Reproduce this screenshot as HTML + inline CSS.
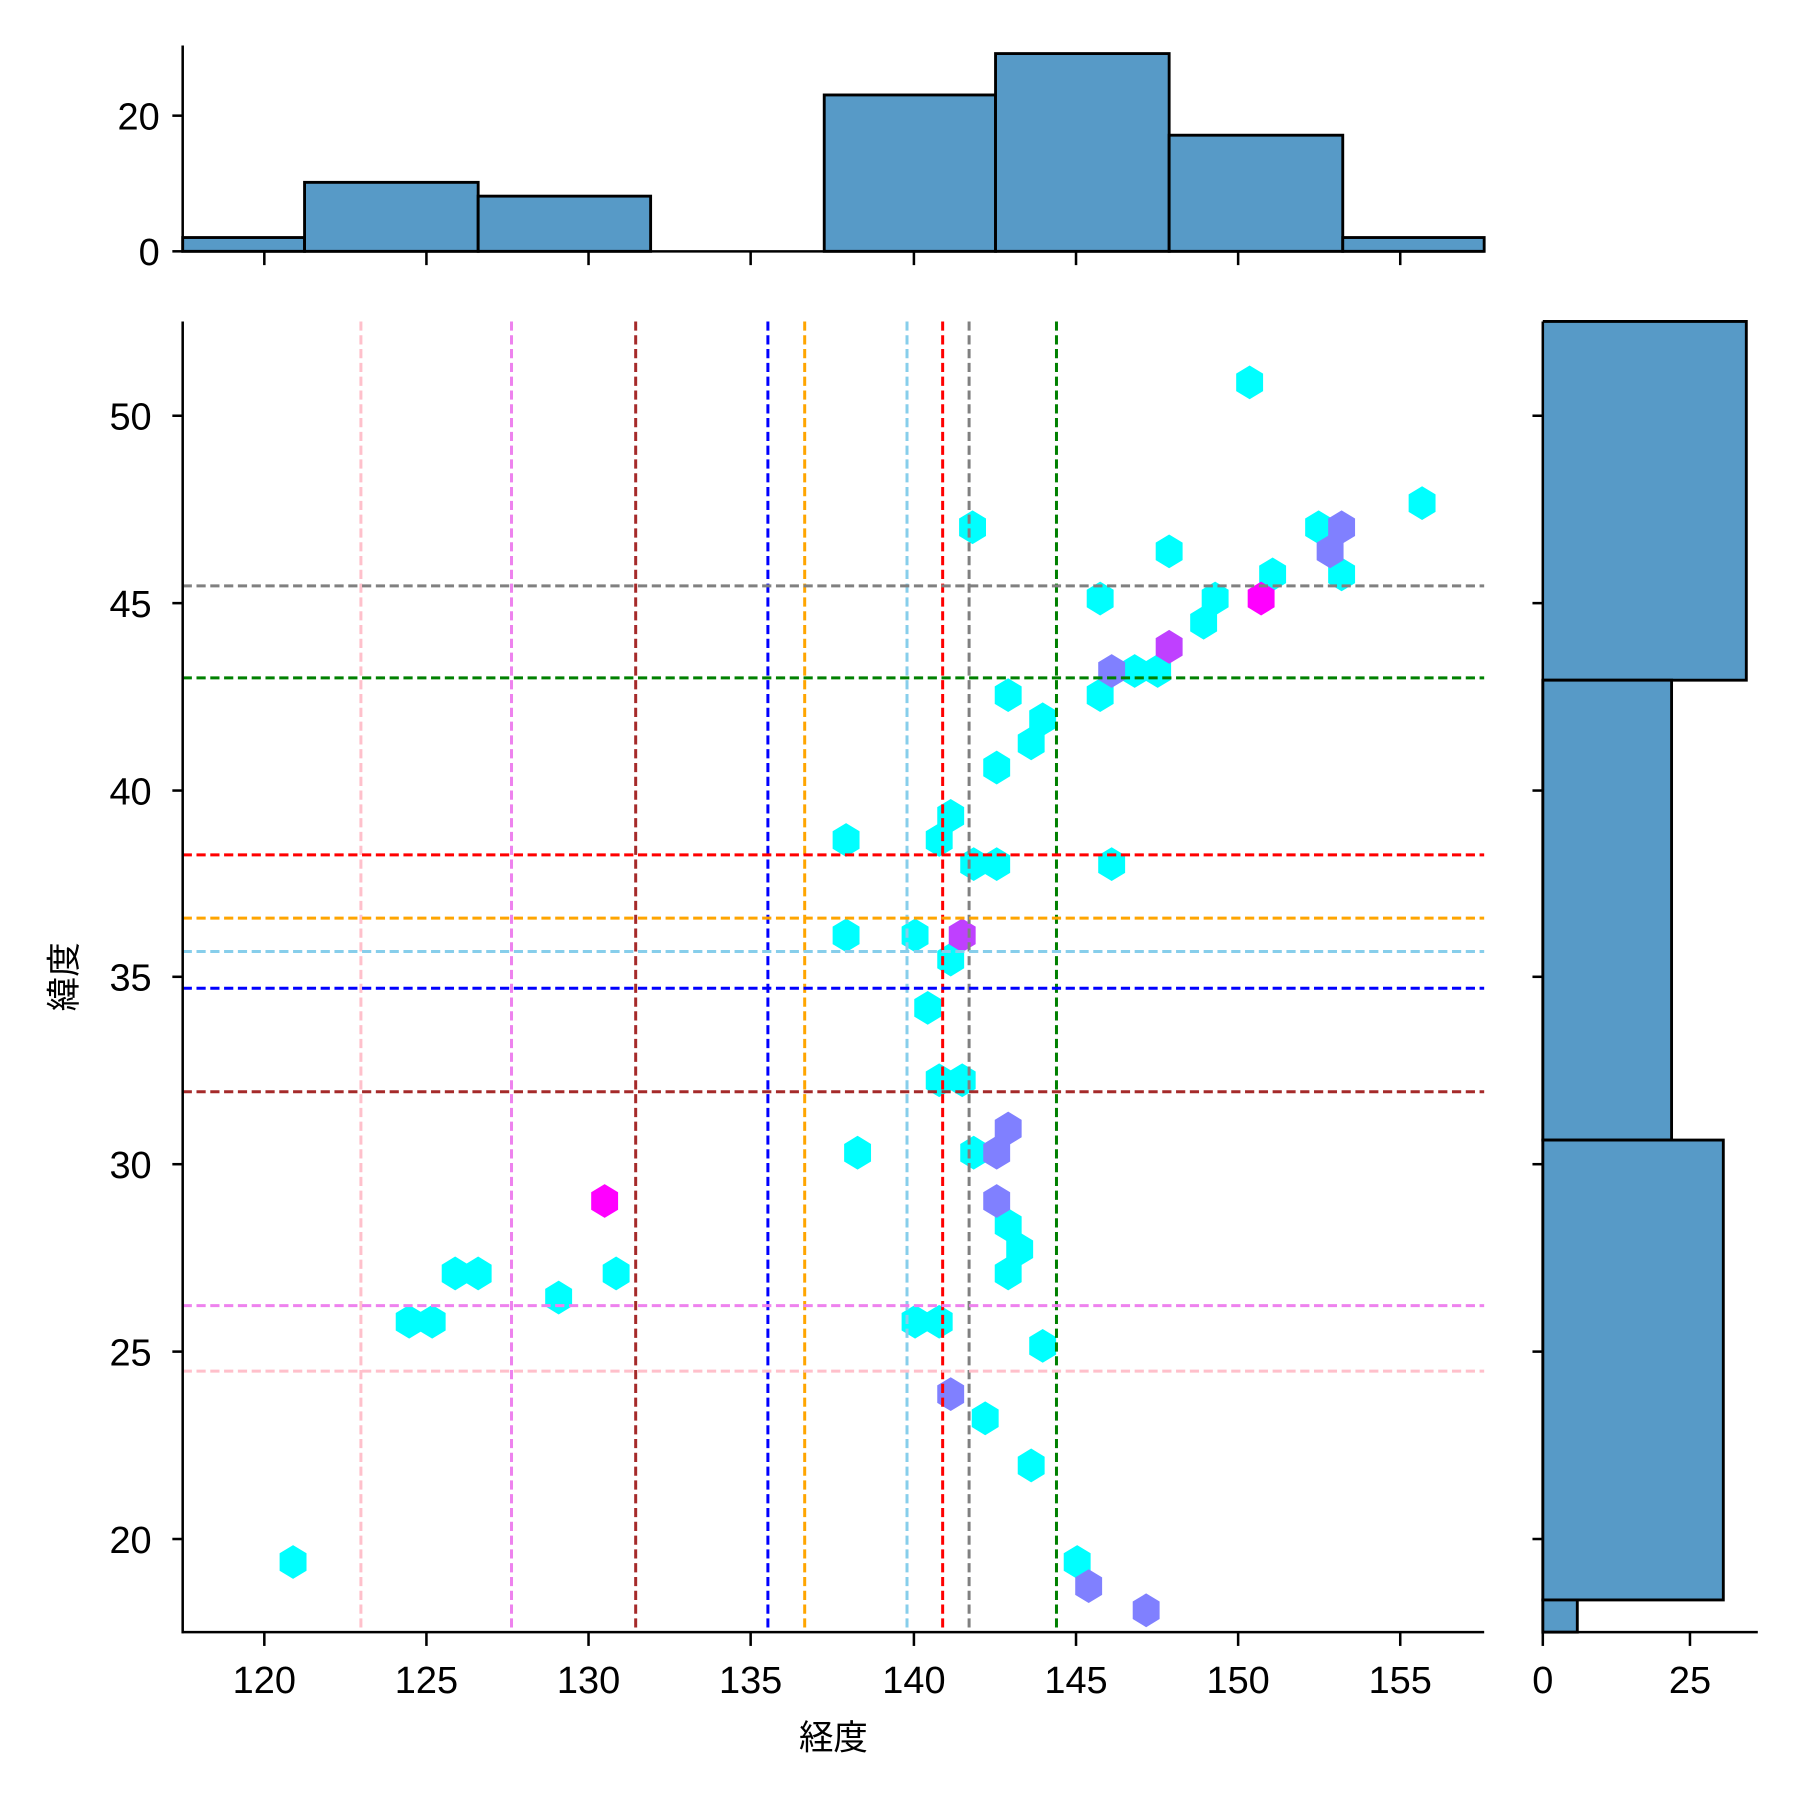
<!DOCTYPE html>
<html><head><meta charset="utf-8"><style>html,body{margin:0;padding:0;background:#fff}svg{display:block}</style></head>
<body>
<svg width="1800" height="1800" viewBox="1.1 0.4 1565.6 1565.6" xmlns="http://www.w3.org/2000/svg" font-family="Liberation Sans, Noto Sans CJK JP, sans-serif">
<defs>
<polygon id="h" points="0,-14.7 11.7,-7.6 11.7,7.6 0,14.7 -11.7,7.6 -11.7,-7.6"/>
</defs>
<g fill="#579ac7" stroke="#000" stroke-width="2.5">
<rect x="160" y="207" width="106" height="12"/>
<rect x="266" y="159" width="151" height="60"/>
<rect x="417" y="171" width="150" height="48"/>
<rect x="718" y="83" width="149" height="136"/>
<rect x="867" y="47" width="151" height="172"/>
<rect x="1018" y="118" width="151" height="101"/>
<rect x="1169" y="207" width="123" height="12"/>
</g>
<g stroke="#000" stroke-width="2.2">
<line x1="160" y1="40" x2="160" y2="220"/>
<line x1="159" y1="219" x2="1292" y2="219"/>
<line x1="151" y1="219" x2="160" y2="219"/><line x1="151" y1="101" x2="160" y2="101"/>
<line x1="231" y1="219" x2="231" y2="231"/><line x1="372" y1="219" x2="372" y2="231"/><line x1="513" y1="219" x2="513" y2="231"/><line x1="654" y1="219" x2="654" y2="231"/><line x1="796" y1="219" x2="796" y2="231"/><line x1="937" y1="219" x2="937" y2="231"/><line x1="1078" y1="219" x2="1078" y2="231"/><line x1="1219" y1="219" x2="1219" y2="231"/>
</g>
<g font-size="33" text-anchor="end">
<text x="140" y="231">0</text><text x="140" y="113">20</text>
</g>
<g fill="#579ac7" stroke="#000" stroke-width="2.5">
<path d="M1343,280 H1520 V592 H1343"/>
<rect x="1343" y="592" width="112" height="400"/>
<rect x="1343" y="992" width="157" height="400"/>
<rect x="1343" y="1392" width="30" height="28"/>
</g>
<g stroke="#000" stroke-width="2.2">
<line x1="1343" y1="280" x2="1343" y2="1421"/>
<line x1="1342" y1="1420" x2="1530" y2="1420"/>
<line x1="1343" y1="1420" x2="1343" y2="1432"/><line x1="1471" y1="1420" x2="1471" y2="1432"/>
<line x1="1334" y1="362" x2="1343" y2="362"/><line x1="1334" y1="525" x2="1343" y2="525"/><line x1="1334" y1="688" x2="1343" y2="688"/><line x1="1334" y1="850" x2="1343" y2="850"/><line x1="1334" y1="1013" x2="1343" y2="1013"/><line x1="1334" y1="1176" x2="1343" y2="1176"/><line x1="1334" y1="1339" x2="1343" y2="1339"/>
</g>
<g font-size="33" text-anchor="middle">
<text x="1343" y="1473">0</text><text x="1471" y="1473">25</text>
</g>
<g fill="#00ffff">
<use href="#h" x="1088" y="333"/><use href="#h" x="1238" y="438"/><use href="#h" x="847" y="459"/><use href="#h" x="1148" y="459"/><use href="#h" x="1018" y="480"/><use href="#h" x="1108" y="500"/><use href="#h" x="1168" y="500"/><use href="#h" x="958" y="521"/><use href="#h" x="1058" y="521"/><use href="#h" x="1048" y="542"/><use href="#h" x="988" y="584"/><use href="#h" x="1008" y="584"/><use href="#h" x="878" y="605"/><use href="#h" x="958" y="605"/><use href="#h" x="908" y="626"/><use href="#h" x="898" y="647"/><use href="#h" x="868" y="668"/><use href="#h" x="828" y="710"/><use href="#h" x="818" y="731"/><use href="#h" x="737" y="731"/><use href="#h" x="848" y="752"/><use href="#h" x="868" y="752"/><use href="#h" x="968" y="752"/><use href="#h" x="737" y="814"/><use href="#h" x="797" y="814"/><use href="#h" x="828" y="835"/><use href="#h" x="808" y="877"/><use href="#h" x="818" y="940"/><use href="#h" x="838" y="940"/><use href="#h" x="747" y="1003"/><use href="#h" x="848" y="1003"/><use href="#h" x="878" y="1066"/><use href="#h" x="888" y="1087"/><use href="#h" x="878" y="1108"/><use href="#h" x="537" y="1108"/><use href="#h" x="397" y="1108"/><use href="#h" x="417" y="1108"/><use href="#h" x="487" y="1129"/><use href="#h" x="357" y="1150"/><use href="#h" x="377" y="1150"/><use href="#h" x="797" y="1150"/><use href="#h" x="818" y="1150"/><use href="#h" x="908" y="1171"/><use href="#h" x="858" y="1234"/><use href="#h" x="898" y="1275"/><use href="#h" x="256" y="1359"/><use href="#h" x="938" y="1359"/>
</g>
<g fill="#8080ff">
<use href="#h" x="1158" y="480"/><use href="#h" x="1168" y="459"/><use href="#h" x="968" y="584"/><use href="#h" x="878" y="982"/><use href="#h" x="868" y="1003"/><use href="#h" x="868" y="1045"/><use href="#h" x="828" y="1213"/><use href="#h" x="948" y="1380"/><use href="#h" x="998" y="1401"/>
</g>
<g fill="#ff00ff"><use href="#h" x="1098" y="521"/><use href="#h" x="527" y="1045"/></g>
<g fill="#bf40ff"><use href="#h" x="1018" y="563"/><use href="#h" x="838" y="814"/></g>
<g stroke-width="2.6" stroke-dasharray="8,4" fill="none">
<line x1="315" y1="280" x2="315" y2="1420" stroke="#ffc0cb"/>
<line x1="446" y1="280" x2="446" y2="1420" stroke="#ee82ee"/>
<line x1="554" y1="280" x2="554" y2="1420" stroke="#a52a2a"/>
<line x1="669" y1="280" x2="669" y2="1420" stroke="#0000ff"/>
<line x1="701" y1="280" x2="701" y2="1420" stroke="#ffa500"/>
<line x1="790" y1="280" x2="790" y2="1420" stroke="#87ceeb"/>
<line x1="821" y1="280" x2="821" y2="1420" stroke="#ff0000"/>
<line x1="844" y1="280" x2="844" y2="1420" stroke="#808080"/>
<line x1="920" y1="280" x2="920" y2="1420" stroke="#008000"/>
<line x1="160" y1="510" x2="1292" y2="510" stroke="#808080"/>
<line x1="160" y1="590" x2="1292" y2="590" stroke="#008000"/>
<line x1="160" y1="744" x2="1292" y2="744" stroke="#ff0000"/>
<line x1="160" y1="799" x2="1292" y2="799" stroke="#ffa500"/>
<line x1="160" y1="828" x2="1292" y2="828" stroke="#87ceeb"/>
<line x1="160" y1="860" x2="1292" y2="860" stroke="#0000ff"/>
<line x1="160" y1="950" x2="1292" y2="950" stroke="#a52a2a"/>
<line x1="160" y1="1136" x2="1292" y2="1136" stroke="#ee82ee"/>
<line x1="160" y1="1193" x2="1292" y2="1193" stroke="#ffc0cb"/>
</g>
<g stroke="#000" stroke-width="2.2">
<line x1="160" y1="280" x2="160" y2="1421"/>
<line x1="159" y1="1420" x2="1292" y2="1420"/>
<line x1="231" y1="1420" x2="231" y2="1432"/><line x1="372" y1="1420" x2="372" y2="1432"/><line x1="513" y1="1420" x2="513" y2="1432"/><line x1="654" y1="1420" x2="654" y2="1432"/><line x1="796" y1="1420" x2="796" y2="1432"/><line x1="937" y1="1420" x2="937" y2="1432"/><line x1="1078" y1="1420" x2="1078" y2="1432"/><line x1="1219" y1="1420" x2="1219" y2="1432"/>
<line x1="151" y1="362" x2="160" y2="362"/><line x1="151" y1="525" x2="160" y2="525"/><line x1="151" y1="688" x2="160" y2="688"/><line x1="151" y1="850" x2="160" y2="850"/><line x1="151" y1="1013" x2="160" y2="1013"/><line x1="151" y1="1176" x2="160" y2="1176"/><line x1="151" y1="1339" x2="160" y2="1339"/>
</g>
<g font-size="33" text-anchor="middle">
<text x="231" y="1473">120</text><text x="372" y="1473">125</text><text x="513" y="1473">130</text><text x="654" y="1473">135</text><text x="796" y="1473">140</text><text x="937" y="1473">145</text><text x="1078" y="1473">150</text><text x="1219" y="1473">155</text>
</g>
<g font-size="33" text-anchor="end">
<text x="133" y="374">50</text><text x="133" y="537">45</text><text x="133" y="700">40</text><text x="133" y="862">35</text><text x="133" y="1025">30</text><text x="133" y="1188">25</text><text x="133" y="1351">20</text>
</g>
<text x="726" y="1522" font-size="30" text-anchor="middle">経度</text>
<text transform="translate(67,850) rotate(-90)" font-size="30" text-anchor="middle">緯度</text>
</svg>
</body></html>
